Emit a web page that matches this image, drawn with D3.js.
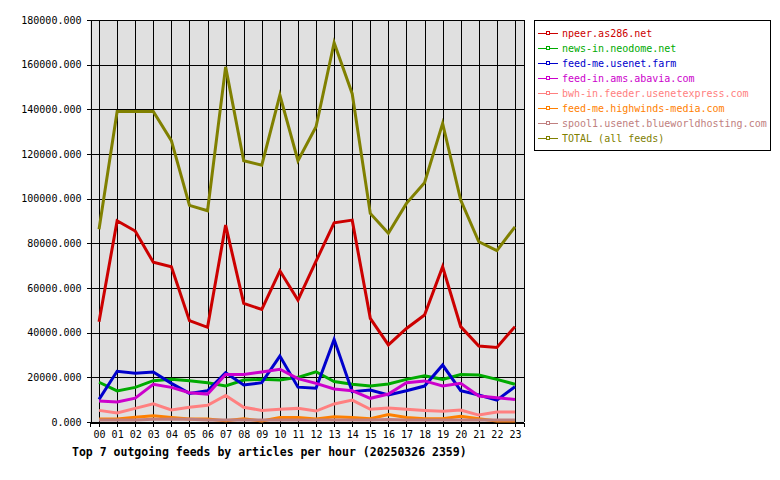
<!DOCTYPE html>
<html>
<head>
<meta charset="utf-8">
<script src="https://cdn.jsdelivr.net/npm/d3@7"></script>
<style>
  html, body { margin: 0; padding: 0; background: #fff; }
  svg { display: block; }
  text { font-family: "DejaVu Sans Mono", monospace; }
</style>
</head>
<body>
<svg id="chart" width="780" height="480"></svg>
<script>
const hours = ["00","01","02","03","04","05","06","07","08","09","10","11","12","13","14","15","16","17","18","19","20","21","22","23"];
const yTicks = [0,20000,40000,60000,80000,100000,120000,140000,160000,180000];

const seriesNames = [
  "npeer.as286.net",
  "news-in.neodome.net",
  "feed-me.usenet.farm",
  "feed-in.ams.abavia.com",
  "bwh-in.feeder.usenetexpress.com",
  "feed-me.highwinds-media.com",
  "spool1.usenet.blueworldhosting.com",
  "TOTAL (all feeds)"
];
const seriesColors = ["#cc0000","#00aa00","#0000cc","#cc00cc","#ff8080","#ff8000","#c08080","#808000"];

const npeer = [44900,90100,85500,71500,69500,45400,42400,88200,53100,50400,67700,54600,72000,89200,90400,46400,34500,41900,47900,69500,42700,34000,33400,42700];
const neodome = [17800,13900,15500,18500,19100,18500,17600,16100,18800,19100,18800,20000,22500,18100,16900,16100,17000,19100,20700,19100,21300,21000,19100,16900];
const usenetFarm = [10150,22700,21800,22400,17300,12800,14000,22100,16600,17600,29500,15600,15100,37000,13600,14300,12100,14000,16100,25500,14000,12100,9800,15800];
const abavia = [9400,9000,10700,16900,15500,13100,12500,21300,21300,22400,23600,19400,17300,14800,14000,10600,12500,17600,18400,16100,17300,11600,10900,10100];
const usenetexpress = [5200,4000,6100,8100,5400,6600,7500,11900,6600,5200,5700,6100,4900,8100,9800,5700,6300,5700,5200,4800,5400,3100,4500,4500];
const highwinds = [1300,1300,2100,2800,2000,1300,1300,600,1500,500,2000,2000,1300,2400,2000,1500,3300,2000,1500,1500,2600,1500,500,500];
const blueworld = [900,900,900,1200,1300,1200,900,900,900,900,900,900,900,900,900,900,1100,900,900,900,900,900,900,900];
const total = [86300,139000,139000,139000,126000,97000,94600,159000,117000,115000,146400,117000,132200,169800,147000,93400,84500,97900,107100,133700,99400,80700,76700,87400];

const seriesValues = [npeer, neodome, usenetFarm, abavia, usenetexpress, highwinds, blueworld, total];

const svg = d3.select("#chart");
const L = 90, R = 524, T = 20, B = 422;

const x = d3.scalePoint().domain(hours).range([L, R]).padding(0.5);
const y = d3.scaleLinear().domain([0, 180000]).range([B, T]);

// plot background
svg.append("rect").attr("x", L).attr("y", T).attr("width", R - L).attr("height", B - T).attr("fill", "#e0e0e0");

// grid
const grid = svg.append("g").attr("stroke", "#000").attr("stroke-width", 1).attr("shape-rendering", "crispEdges");
grid.selectAll("line.h").data(yTicks).join("line")
  .attr("x1", L).attr("x2", R).attr("y1", d => Math.round(y(d)) + 0.5).attr("y2", d => Math.round(y(d)) + 0.5);
grid.selectAll("line.v").data(hours).join("line")
  .attr("x1", d => Math.round(x(d)) + 0.5).attr("x2", d => Math.round(x(d)) + 0.5).attr("y1", T).attr("y2", B);
grid.append("line").attr("x1", R + 0.5).attr("x2", R + 0.5).attr("y1", T).attr("y2", B);

// axes
const yAxis = d3.axisLeft(y).tickValues(yTicks).tickFormat(d3.format(".3f")).tickSize(4).tickPadding(5);
const gy = svg.append("g").attr("transform", `translate(${L + 0.5},0)`).call(yAxis);
gy.selectAll("text").attr("font-size", 10).attr("font-family", "DejaVu Sans Mono").attr("fill", "#000");
gy.selectAll("line,path").attr("stroke", "#000").attr("shape-rendering", "crispEdges");

const xAxis = d3.axisBottom(x).tickSize(4).tickPadding(4);
const gx = svg.append("g").attr("transform", `translate(0,${B + 0.5})`).call(xAxis);
gx.selectAll("text").attr("font-size", 10).attr("font-family", "DejaVu Sans Mono").attr("fill", "#000");
gx.selectAll("line,path").attr("stroke", "#000").attr("shape-rendering", "crispEdges");

// lines
const line = d3.line().x((d, i) => x(hours[i])).y(d => y(d));
svg.append("g").selectAll("path").data(seriesValues).join("path")
  .attr("d", d => line(d))
  .attr("fill", "none")
  .attr("stroke", (d, i) => seriesColors[i])
  .attr("stroke-width", 3)
  .attr("stroke-linejoin", "miter");

// legend
const lg = svg.append("g");
lg.append("rect").attr("x", 534.5).attr("y", 20.5).attr("width", 236).attr("height", 130)
  .attr("fill", "#fff").attr("stroke", "#000").attr("stroke-width", 1);
const items = lg.selectAll("g.item").data(seriesNames).join("g")
  .attr("transform", (d, i) => `translate(0,${33 + i * 15})`);
items.append("line").attr("x1", 538).attr("x2", 558).attr("y1", 0.5).attr("y2", 0.5)
  .attr("stroke", (d, i) => seriesColors[i]).attr("stroke-width", 1);
items.append("rect").attr("x", 546.5).attr("y", -1.5).attr("width", 3).attr("height", 3)
  .attr("fill", "#fff").attr("stroke", (d, i) => seriesColors[i]).attr("stroke-width", 1);
items.append("text").attr("x", 562).attr("y", 0).attr("dy", "0.35em")
  .attr("font-size", 10).attr("fill", (d, i) => seriesColors[i]).text(d => d);

// title
svg.append("text").attr("x", 72).attr("y", 456)
  .attr("font-size", 11.5).attr("font-weight", "bold").attr("fill", "#000")
  .text("Top 7 outgoing feeds by articles per hour (20250326 2359)");
</script>
</body>
</html>
